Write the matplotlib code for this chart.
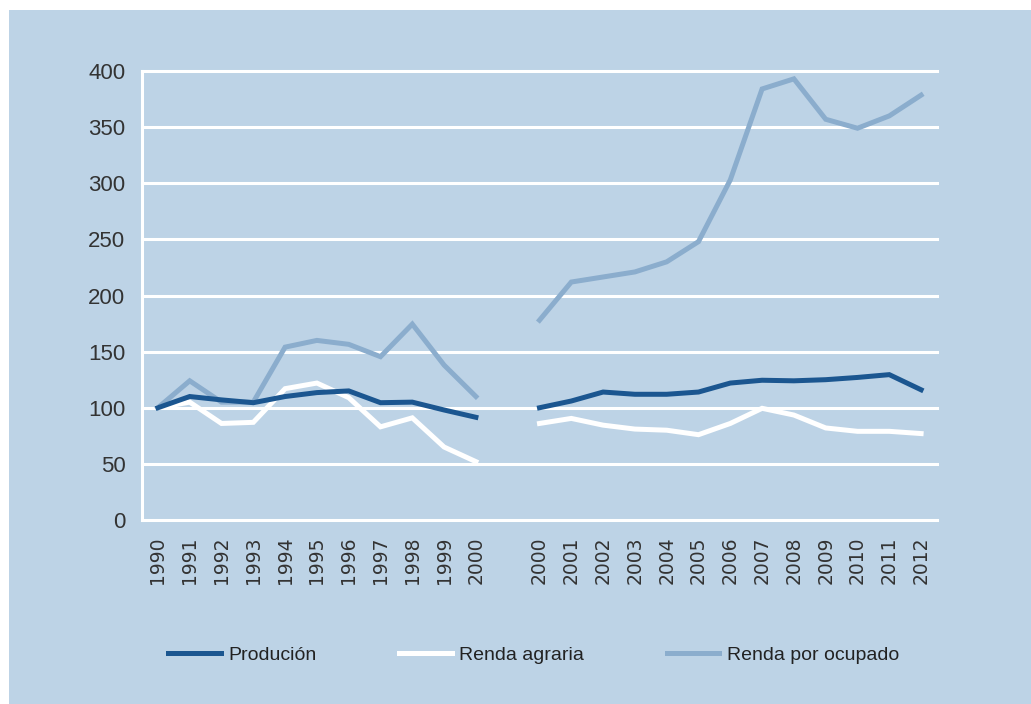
import numpy as np
import matplotlib
matplotlib.use('Agg')
import matplotlib.pyplot as plt
from matplotlib.patches import Rectangle

# two series periods, 1990-2000 and 2000-2012 (index base 100)
years_a = ['1990', '1991', '1992', '1993', '1994', '1995', '1996', '1997', '1998', '1999', '2000']
years_b = ['2000', '2001', '2002', '2003', '2004', '2005', '2006', '2007', '2008', '2009', '2010', '2011', '2012']

producion_a = [100, 110, 107, 104.5, 110, 113.5, 115, 104.5, 105, 98, 91.5]
producion_b = [100, 106, 114, 112, 112, 114, 122, 124.5, 124, 125, 127, 129.5, 116]

renda_agraria_a = [100, 105, 86, 87, 117, 122, 109, 83, 91, 65, 52]
renda_agraria_b = [86, 90.5, 84.5, 81, 80, 76, 86, 99.5, 93.5, 82, 79, 79, 77]

renda_ocupado_a = [100, 124, 105, 105, 154, 160, 156.5, 145.5, 174.5, 138, 110]
renda_ocupado_b = [178, 212, 216.5, 221, 230, 248, 303, 384, 393, 357, 349, 360, 378.5]

labels = years_a + [''] + years_b
x = np.arange(len(labels))


def join(a, b):
    return np.array(a + [np.nan] + b, dtype=float)


bg = '#bdd3e6'
dark = '#1b5690'
light = '#8badcd'
txt_font = 'Liberation Sans'

fig = plt.figure(figsize=(10.31, 7.04), dpi=100)
fig.patch.set_facecolor('white')
box = Rectangle((9 / 1031, 0), 1, 1 - 10 / 704, transform=fig.transFigure,
                facecolor=bg, edgecolor='none', zorder=-10)
fig.add_artist(box)

ax = fig.add_axes([142 / 1031, 1 - 520 / 704, (937 - 142) / 1031, (520 - 71) / 704])
ax.set_facecolor(bg)

l3, = ax.plot(x, join(renda_ocupado_a, renda_ocupado_b), color=light, lw=3.6,
              label='Renda por ocupado', solid_joinstyle='miter', zorder=3)
l2, = ax.plot(x, join(renda_agraria_a, renda_agraria_b), color='white', lw=3.6,
              label='Renda agraria', solid_joinstyle='miter', zorder=4)
l1, = ax.plot(x, join(producion_a, producion_b), color=dark, lw=3.6,
              label='Produción', solid_joinstyle='miter', zorder=5)

ax.set_xlim(-0.5, len(labels) - 0.5)
ax.set_ylim(0, 400)
ax.set_yticks(np.arange(0, 401, 50))
ax.set_xticks(x)
ax.set_xticklabels(labels, rotation=90, fontsize=13.5, color='#333333', family='DejaVu Sans')
for t in ax.get_yticklabels():
    t.set_fontfamily(txt_font)
    t.set_fontsize(16)
    t.set_color('#333333')

ax.tick_params(axis='both', length=0)
ax.tick_params(axis='y', pad=12)
ax.tick_params(axis='x', pad=12)

ax.yaxis.grid(True, color='white', lw=2.2)
ax.set_axisbelow(True)
for gl in ax.get_ygridlines():
    gl.set_clip_on(False)

for s in ['top', 'right', 'bottom']:
    ax.spines[s].set_visible(False)
ax.spines['left'].set_color('white')
ax.spines['left'].set_linewidth(2.2)

fig.legend(handles=[l1, l2, l3], loc='center left',
           bbox_to_anchor=(168 / 1031, 1 - 655 / 704), ncol=3, frameon=False,
           prop={'family': txt_font, 'size': 14},
           handlelength=2.7, handletextpad=0.4, columnspacing=4.25,
           borderpad=0, borderaxespad=0, labelcolor='#222222')

fig.savefig('out.png', dpi=100, facecolor=fig.get_facecolor())
